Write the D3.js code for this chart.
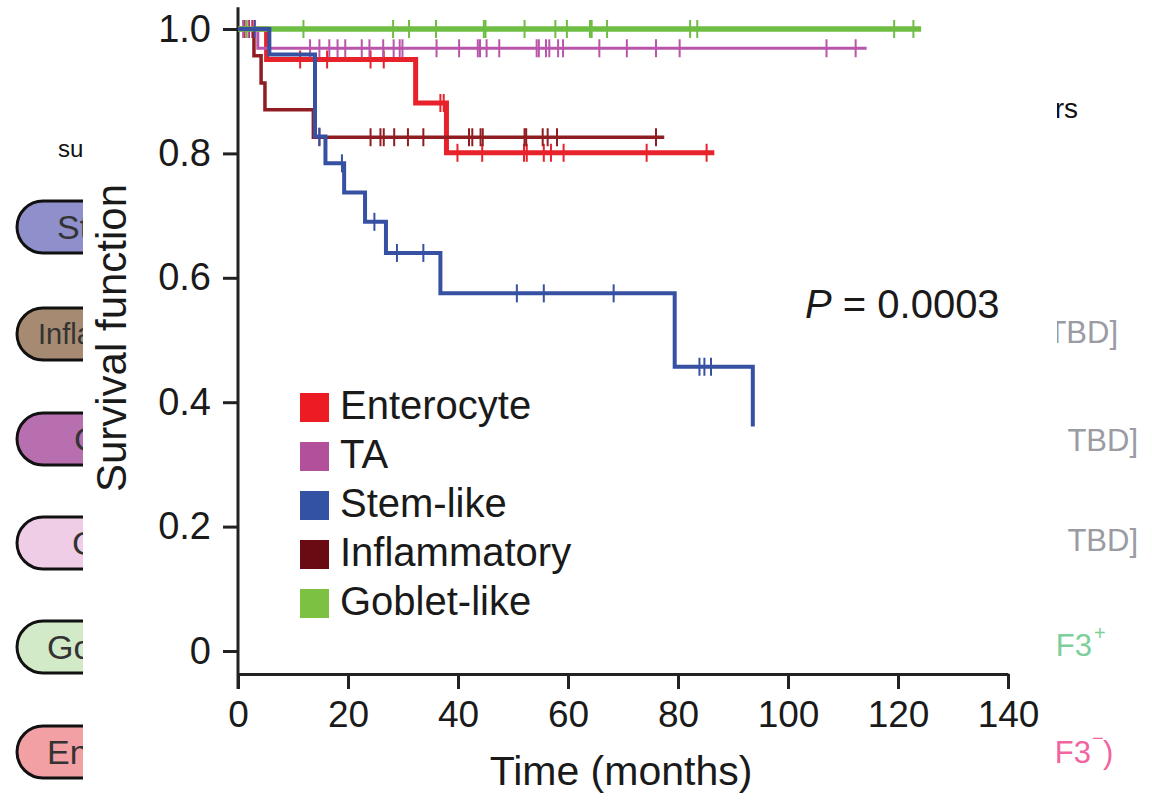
<!DOCTYPE html>
<html lang="en">
<head>
    <title>Survival by subtype</title>
    <meta charset="utf-8"/>
    <script src="https://d3js.org/d3.v7.min.js"></script>
    <style>
        body { margin: 0; background: #fff; }
        svg text { font-family: "Liberation Sans", Arial, Helvetica, sans-serif; }
    </style>
</head>
<body>
<svg width="1152" height="807"></svg>

<script type="text/javascript">

    // groups and legend
    const groups = ["Enterocyte", "TA", "Stem-like", "Inflammatory", "Goblet-like"];
    const legendColors = ["#ed1c24", "#b3509c", "#3452a3", "#6a0a12", "#7cc142"];
    const lineColors = ["#e8222a", "#b955ab", "#3650a2", "#8f1d22", "#6fbe44"];
    const lineWidths = [5, 3, 4, 3.5, 5.5];

    // Kaplan-Meier steps (months, survival), end of follow-up and censor times
    const enteroTimes = [0, 5.2, 32.3, 37.9];
    const enteroSurv = [1, 0.951, 0.881, 0.801];
    const enteroEnd = 86.6;
    const enteroCensor = [1.2, 2.6, 11.3, 16.2, 24.1, 26.5, 36.8, 37.4, 39.9, 44.4, 52.0, 52.5, 55.6, 56.9, 59.2, 74.3, 85.2];

    const taTimes = [0, 3.6];
    const taSurv = [1, 0.969];
    const taEnd = 114.3;
    const taCensor = [1.0, 1.9, 3.1, 13.1, 14.8, 16.6, 18.1, 19.5, 22.5, 23.9, 26.4, 28.3, 29.4, 29.9, 36.1, 40.2,
        43.6, 44.0, 45.2, 47.5, 54.3, 54.7, 56.0, 56.6, 58.2, 59.1, 65.7, 70.7, 76.0, 80.3, 107.0, 112.3];

    const stemTimes = [0, 5.7, 14.0, 15.9, 19.3, 23.1, 26.9, 36.8, 79.4, 93.6];
    const stemSurv = [1, 0.959, 0.827, 0.784, 0.737, 0.690, 0.640, 0.575, 0.457, 0.361];
    const stemEnd = 93.6;
    const stemCensor = [3.0, 14.8, 18.9, 24.8, 28.9, 33.7, 50.7, 55.6, 68.3, 83.9, 84.8, 86.0];

    const inflTimes = [0, 2.9, 4.2, 4.9, 13.7];
    const inflSurv = [1, 0.957, 0.913, 0.870, 0.826];
    const inflEnd = 77.5;
    const inflCensor = [1.0, 2.0, 14.8, 24.1, 25.9, 26.5, 28.4, 30.9, 33.7, 42.0, 42.6, 44.1, 44.5, 52.1, 52.4,
        55.4, 56.3, 58.0, 76.0];

    const gobletTimes = [0];
    const gobletSurv = [1];
    const gobletEnd = 124.2;
    const gobletCensor = [1.5, 11.9, 28.2, 31.1, 36.0, 44.7, 45.0, 52.1, 57.7, 59.8, 64.0, 64.3, 67.1, 82.2, 83.5,
        119.3, 122.8];

    // axis ticks
    const xTicks = [0, 20, 40, 60, 80, 100, 120, 140];
    const yTicks = [0, 0.2, 0.4, 0.6, 0.8, 1.0];

    // pieces of the figure behind the chart panel (only what shows)
    const pillLabels = ["St", "Infla", "C", "C", "Go", "En"];
    const pillColors = ["#8e8fcb", "#a68b72", "#b86fb0", "#f0cde6", "#d2eac8", "#f3a0a4"];
    const sideLabels = ["TBD]", "TBD]", "TBD]", "F3", "F3"];

    const svg = d3.select("svg");

    // scales
    let xScale = d3.scaleLinear().domain([0, 140]).range([238, 1008]);
    let yScale = d3.scaleLinear().domain([0, 1]).range([651, 29]);

    // ---- background figure (clipped) ----
    svg.append("clipPath").attr("id", "clipLeft")
        .append("rect").attr("x", 0).attr("y", 0).attr("width", 83).attr("height", 807);
    svg.append("clipPath").attr("id", "clipRight")
        .append("rect").attr("x", 1057).attr("y", 0).attr("width", 95).attr("height", 807);

    let left = svg.append("g").attr("clip-path", "url(#clipLeft)");
    left.append("text").attr("x", 58).attr("y", 157)
        .style("font-size", "24px").attr("fill", "#111").text("su");

    const pillTops = [201, 308, 413, 517, 621, 726];
    const pillTextX = [57, 38, 74, 72, 47, 47];
    const pillFont = [34, 29, 34, 34, 34, 34];
    pillLabels.forEach(function (lab, i) {
        left.append("rect")
            .attr("x", 17).attr("y", pillTops[i])
            .attr("width", 220).attr("height", 52)
            .attr("rx", 26).attr("ry", 26)
            .attr("fill", pillColors[i])
            .attr("stroke", "#111").attr("stroke-width", 3);
        left.append("text")
            .attr("x", pillTextX[i]).attr("y", pillTops[i] + 26)
            .attr("dy", "0.36em")
            .style("font-size", pillFont[i] + "px")
            .attr("fill", "#333")
            .text(lab);
    });

    let right = svg.append("g").attr("clip-path", "url(#clipRight)");
    right.append("text").attr("x", 1078).attr("y", 118).attr("text-anchor", "end")
        .style("font-size", "28px").attr("fill", "#111").text("rs");
    const sideY = [343, 451, 551];
    const sideEnd = [1118, 1138, 1138];
    sideY.forEach(function (y, i) {
        right.append("text").attr("x", sideEnd[i]).attr("y", y).attr("text-anchor", "end")
            .style("font-size", "31px").attr("fill", "#9a9ba3").text(sideLabels[i]);
    });
    right.append("text").attr("x", 1092).attr("y", 656).attr("text-anchor", "end")
        .style("font-size", "31px").attr("fill", "#7ccf9a").text(sideLabels[3]);
    right.append("text").attr("x", 1094).attr("y", 640)
        .style("font-size", "20px").attr("fill", "#7ccf9a").text("+");
    right.append("text").attr("x", 1091).attr("y", 763).attr("text-anchor", "end")
        .style("font-size", "31px").attr("fill", "#f2649f").text(sideLabels[4]);
    right.append("text").attr("x", 1092).attr("y", 745)
        .style("font-size", "20px").attr("fill", "#f2649f").text("\u2212");
    right.append("text").attr("x", 1103).attr("y", 763)
        .style("font-size", "31px").attr("fill", "#f2649f").text(")");

    // ---- axes ----
    const xAxisY = yScale(-0.037);

    let xAxis = d3.axisBottom(xScale).tickValues(xTicks).tickSize(15).tickSizeOuter(0).tickPadding(12);
    let xPlot = svg.append("g")
        .attr("transform", "translate(0," + xAxisY + ")")
        .call(xAxis);
    xPlot.selectAll("text").style("font-size", "37px").attr("fill", "#1a1a1a");

    let yAxis = d3.axisLeft(yScale).tickValues(yTicks).tickSize(15).tickSizeOuter(0).tickPadding(12)
        .tickFormat(d => d === 0 ? "0" : d3.format(".1f")(d));
    let yPlot = svg.append("g")
        .attr("transform", "translate(" + xScale(0) + ",0)")
        .call(yAxis);
    yPlot.select(".domain").remove();
    yPlot.selectAll("text").style("font-size", "38px").attr("fill", "#1a1a1a");

    // y axis line runs from the top down to the x axis, plus the 0 tick below
    svg.append("line")
        .attr("x1", xScale(0)).attr("x2", xScale(0))
        .attr("y1", yScale(1.035)).attr("y2", xAxisY + 15)
        .attr("stroke", "#222").attr("stroke-width", 3);

    svg.selectAll(".tick line").attr("stroke", "#222").attr("stroke-width", 3);
    xPlot.select(".domain").attr("stroke", "#222").attr("stroke-width", 3);

    // axis titles
    svg.append("text")
        .attr("transform", "translate(126,338) rotate(-90)")
        .attr("text-anchor", "middle")
        .style("font-size", "42px").attr("fill", "#1a1a1a")
        .text("Survival function");
    svg.append("text")
        .attr("x", 621).attr("y", 785)
        .attr("text-anchor", "middle")
        .style("font-size", "41px").attr("fill", "#1a1a1a")
        .text("Time (months)");

    // ---- survival curves ----
    const curveData = [
        {t: enteroTimes, s: enteroSurv, end: enteroEnd, c: enteroCensor},
        {t: taTimes, s: taSurv, end: taEnd, c: taCensor},
        {t: stemTimes, s: stemSurv, end: stemEnd, c: stemCensor},
        {t: inflTimes, s: inflSurv, end: inflEnd, c: inflCensor},
        {t: gobletTimes, s: gobletSurv, end: gobletEnd, c: gobletCensor}
    ];
    const drawOrder = [0, 3, 1, 4, 2];

    function survAt(g, time) {
        let v = g.s[0];
        g.t.forEach(function (tt, i) { if (tt <= time) v = g.s[i]; });
        return v;
    }

    let line = d3.line()
        .x(d => xScale(d[0]))
        .y(d => yScale(d[1]))
        .curve(d3.curveStepAfter);

    drawOrder.forEach(function (k) {
        let g = curveData[k];
        let pts = g.t.map((tt, i) => [tt, g.s[i]]);
        pts.push([g.end, g.s[g.s.length - 1]]);
        let grp = svg.append("g");
        grp.append("path")
            .attr("d", line(pts))
            .attr("fill", "none")
            .attr("stroke", lineColors[k])
            .attr("stroke-width", lineWidths[k])
            .attr("stroke-linejoin", "miter");
        grp.selectAll("line.censor")
            .data(g.c)
            .enter()
            .append("line")
            .attr("class", "censor")
            .attr("x1", d => xScale(d)).attr("x2", d => xScale(d))
            .attr("y1", d => yScale(survAt(g, d)) - 9)
            .attr("y2", d => yScale(survAt(g, d)) + 9)
            .attr("stroke", lineColors[k])
            .attr("stroke-width", 2);
    });

    // ---- legend ----
    let legend = svg.append("g").attr("transform", "translate(300,393)");
    groups.forEach(function (name, i) {
        legend.append("rect")
            .attr("x", 0).attr("y", i * 49)
            .attr("width", 29).attr("height", 29)
            .attr("fill", legendColors[i]);
        legend.append("text")
            .attr("x", 40).attr("y", i * 49 + 26)
            .style("font-size", "40px").attr("fill", "#1a1a1a")
            .text(name);
    });

    // p-value
    let ptext = svg.append("text")
        .attr("x", 805).attr("y", 318)
        .style("font-size", "40px").attr("fill", "#1a1a1a");
    ptext.append("tspan").style("font-style", "italic").text("P");
    ptext.append("tspan").text(" = 0.0003");

</script>
</body>
</html>
